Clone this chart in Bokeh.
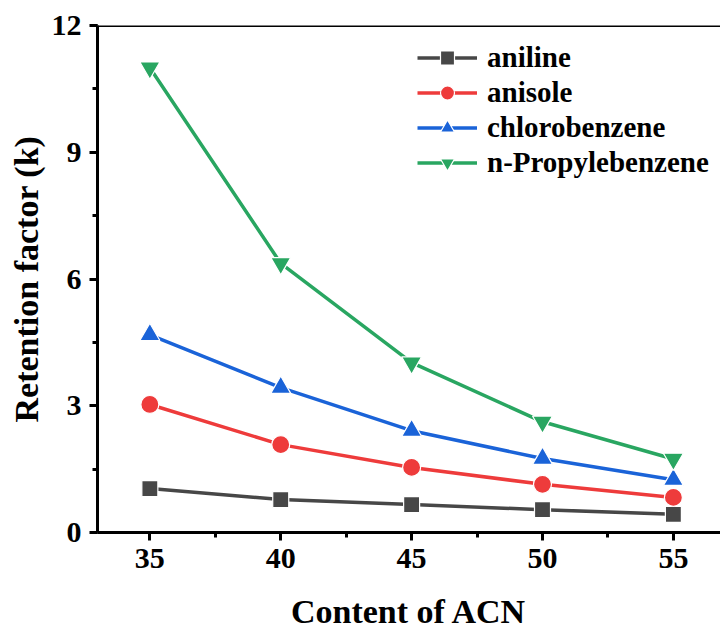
from bokeh.plotting import figure
from bokeh.models import (ColumnDataSource, Legend, LegendItem, Range1d,
                          SingleIntervalTicker, Span)
from bokeh.embed import file_html
from bokeh.resources import INLINE

# Acetonitrile content (%) in the mobile phase
acn = [35, 40, 45, 50, 55]

# Retention factors k for each analyte
aniline = [1.04, 0.78, 0.66, 0.54, 0.43]
anisole = [3.03, 2.08, 1.54, 1.14, 0.83]
chlorobenzene = [4.68, 3.43, 2.41, 1.75, 1.25]
propylbenzene = [11.0, 6.37, 4.02, 2.62, 1.74]

series_names = ["aniline", "anisole", "chlorobenzene", "n-Propylebenzene"]
series_values = [aniline, anisole, chlorobenzene, propylbenzene]
series_colors = ["#474747", "#ee3b3b", "#1a63d8", "#29a661"]
series_markers = ["square", "circle", "triangle", "inverted_triangle"]
marker_sizes = [16, 18, 20, 20]

FONT = "'Liberation Serif', 'Times New Roman', serif"

p = figure(width=720, height=632, output_backend="svg", toolbar_location=None,
           x_range=Range1d(33, 56.8), y_range=Range1d(0, 12),
           min_border_left=97, min_border_right=0,
           min_border_top=25, min_border_bottom=100)
p.background_fill_color = "white"
p.border_fill_color = "white"
p.outline_line_color = None
p.grid.visible = False

items = []
for name, vals, col, mk, sz in zip(series_names, series_values, series_colors,
                                   series_markers, marker_sizes):
    src = ColumnDataSource(dict(x=acn, y=vals))
    ln = p.line("x", "y", source=src, line_color=col, line_width=3.5)
    sc = p.scatter("x", "y", source=src, marker=mk, size=sz,
                   fill_color=col, line_color="white", line_width=1.2)
    items.append(LegendItem(label=name, renderers=[ln, sc]))

# top frame line
p.add_layout(Span(location=12, dimension="width", line_color="black",
                  line_width=3))

for ax in (p.xaxis[0], p.yaxis[0]):
    ax.axis_line_width = 3
    ax.axis_line_color = "black"
    ax.major_tick_line_width = 3
    ax.minor_tick_line_width = 3
    ax.major_tick_out = 8
    ax.major_tick_in = 0
    ax.minor_tick_out = 5
    ax.minor_tick_in = 0
    ax.major_label_text_font = FONT
    ax.major_label_text_font_style = "bold"
    ax.major_label_text_font_size = "30px"
    ax.major_label_text_color = "black"
    ax.axis_label_text_font = FONT
    ax.axis_label_text_font_style = "bold"
    ax.axis_label_text_font_size = "34px"
    ax.axis_label_text_color = "black"
    ax.major_label_standoff = 8

p.xaxis[0].ticker = SingleIntervalTicker(interval=5, num_minor_ticks=2)
p.yaxis[0].ticker = SingleIntervalTicker(interval=3, num_minor_ticks=2)
p.xaxis[0].axis_label = "Content of ACN"
p.yaxis[0].axis_label = "Retention factor (k)"
p.xaxis[0].axis_label_standoff = 22
p.yaxis[0].axis_label_standoff = 4

legend = Legend(items=items, location=(320, 352))
legend.label_text_font = FONT
legend.label_text_font_style = "bold"
legend.label_text_font_size = "29px"
legend.label_text_color = "black"
legend.glyph_width = 60
legend.glyph_height = 35
legend.label_height = 35
legend.spacing = 0
legend.padding = 0
legend.margin = 0
legend.label_standoff = 10
legend.border_line_color = None
legend.background_fill_alpha = 0
p.add_layout(legend)

open("out.html", "w").write(file_html(p, INLINE))
